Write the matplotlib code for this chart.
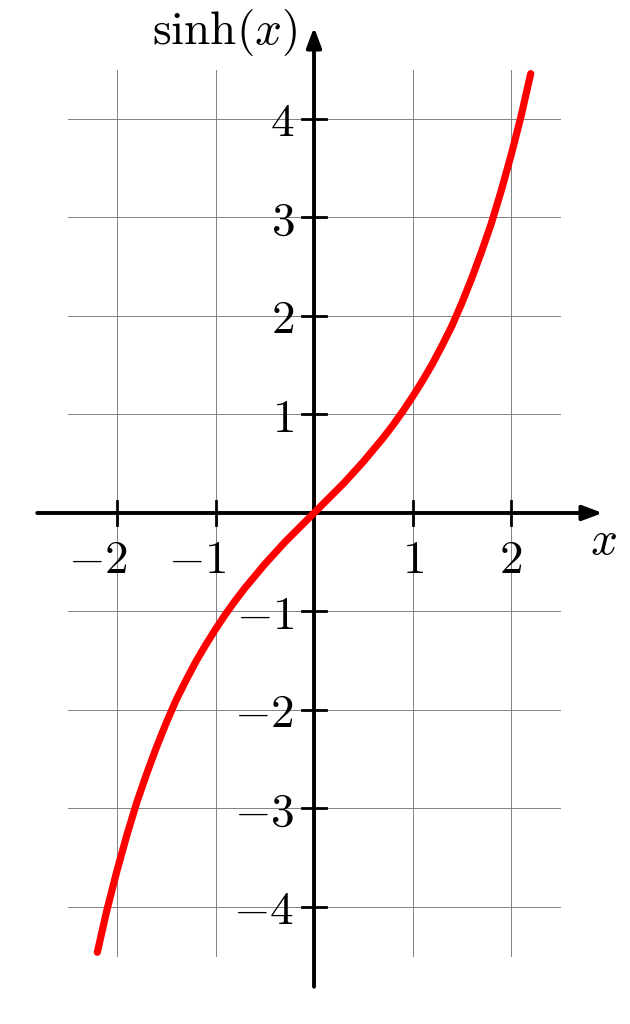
import matplotlib
matplotlib.use('Agg')
import matplotlib.pyplot as plt

plt.rcParams['mathtext.fontset'] = 'cm'

# curve points
xs = [-2.2, -2.1, -2.0, -1.9, -1.8, -1.7, -1.6, -1.5, -1.4, -1.3, -1.2, -1.1,
      -1.0, -0.9, -0.8, -0.7, -0.6, -0.5, -0.4, -0.3, -0.2, -0.1, 0.0,
      0.1, 0.2, 0.3, 0.4, 0.5, 0.6, 0.7, 0.8, 0.9, 1.0, 1.1, 1.2, 1.3,
      1.4, 1.5, 1.6, 1.7, 1.8, 1.9, 2.0, 2.1, 2.2]
ys = [-4.46, -4.02, -3.63, -3.27, -2.94, -2.65, -2.38, -2.13, -1.90, -1.70,
      -1.51, -1.34, -1.18, -1.03, -0.89, -0.76, -0.64, -0.52, -0.41, -0.30,
      -0.20, -0.10, 0.0, 0.10, 0.20, 0.30, 0.41, 0.52, 0.64, 0.76, 0.89,
      1.03, 1.18, 1.34, 1.51, 1.70, 1.90, 2.13, 2.38, 2.65, 2.94, 3.27,
      3.63, 4.02, 4.46]

xticks = [-2, -1, 1, 2]
yticks = [-4, -3, -2, -1, 1, 2, 3, 4]
gridx = [-2, -1, 0, 1, 2]
gridy = [-4, -3, -2, -1, 0, 1, 2, 3, 4]

fig = plt.figure(figsize=(6.3, 10.24), dpi=100)
ax = fig.add_axes([0, 0, 1, 1])
ax.set_xlim(-3.188, 3.208)
ax.set_ylim(-5.188, 5.208)
ax.axis('off')

# grid
for g in gridx:
    ax.plot([g, g], [-4.5, 4.5], color='0.5', lw=0.7, zorder=1)
for g in gridy:
    ax.plot([-2.5, 2.5], [g, g], color='0.5', lw=0.7, zorder=1)

# axes with arrows
arr = dict(arrowstyle='-|>,head_length=1.2,head_width=0.45', color='black',
           lw=2.8, shrinkA=0, shrinkB=0)
ax.annotate('', xy=(2.93, 0), xytext=(-2.81, 0), arrowprops=arr, zorder=3)
ax.annotate('', xy=(0, 4.93), xytext=(0, -4.81), arrowprops=arr, zorder=3)

# ticks
tl = 0.125
for t in xticks:
    ax.plot([t, t], [-tl, tl], color='black', lw=2.0, zorder=3)
for t in yticks:
    ax.plot([-tl, tl], [t, t], color='black', lw=2.0, zorder=3)

fs = 34
for t in xticks:
    if t < 0:
        ax.text(t + 0.11, -0.48, r'$%d$' % t, ha='right', va='center', fontsize=fs)
    else:
        ax.text(t, -0.48, r'$%d$' % t, ha='center', va='center', fontsize=fs)
for t in yticks:
    ax.text(-0.2, t, r'$%d$' % t, ha='right', va='center_baseline', fontsize=fs)

ax.text(-0.17, 4.88, r'$\mathrm{sinh}(x)$', ha='right', va='center', fontsize=fs)
ax.text(2.94, -0.29, r'$x$', ha='center', va='center', fontsize=fs)

# curve
ax.plot(xs, ys, color='red', lw=5.2, solid_capstyle='round', zorder=4)

fig.savefig('out.png', dpi=100)
